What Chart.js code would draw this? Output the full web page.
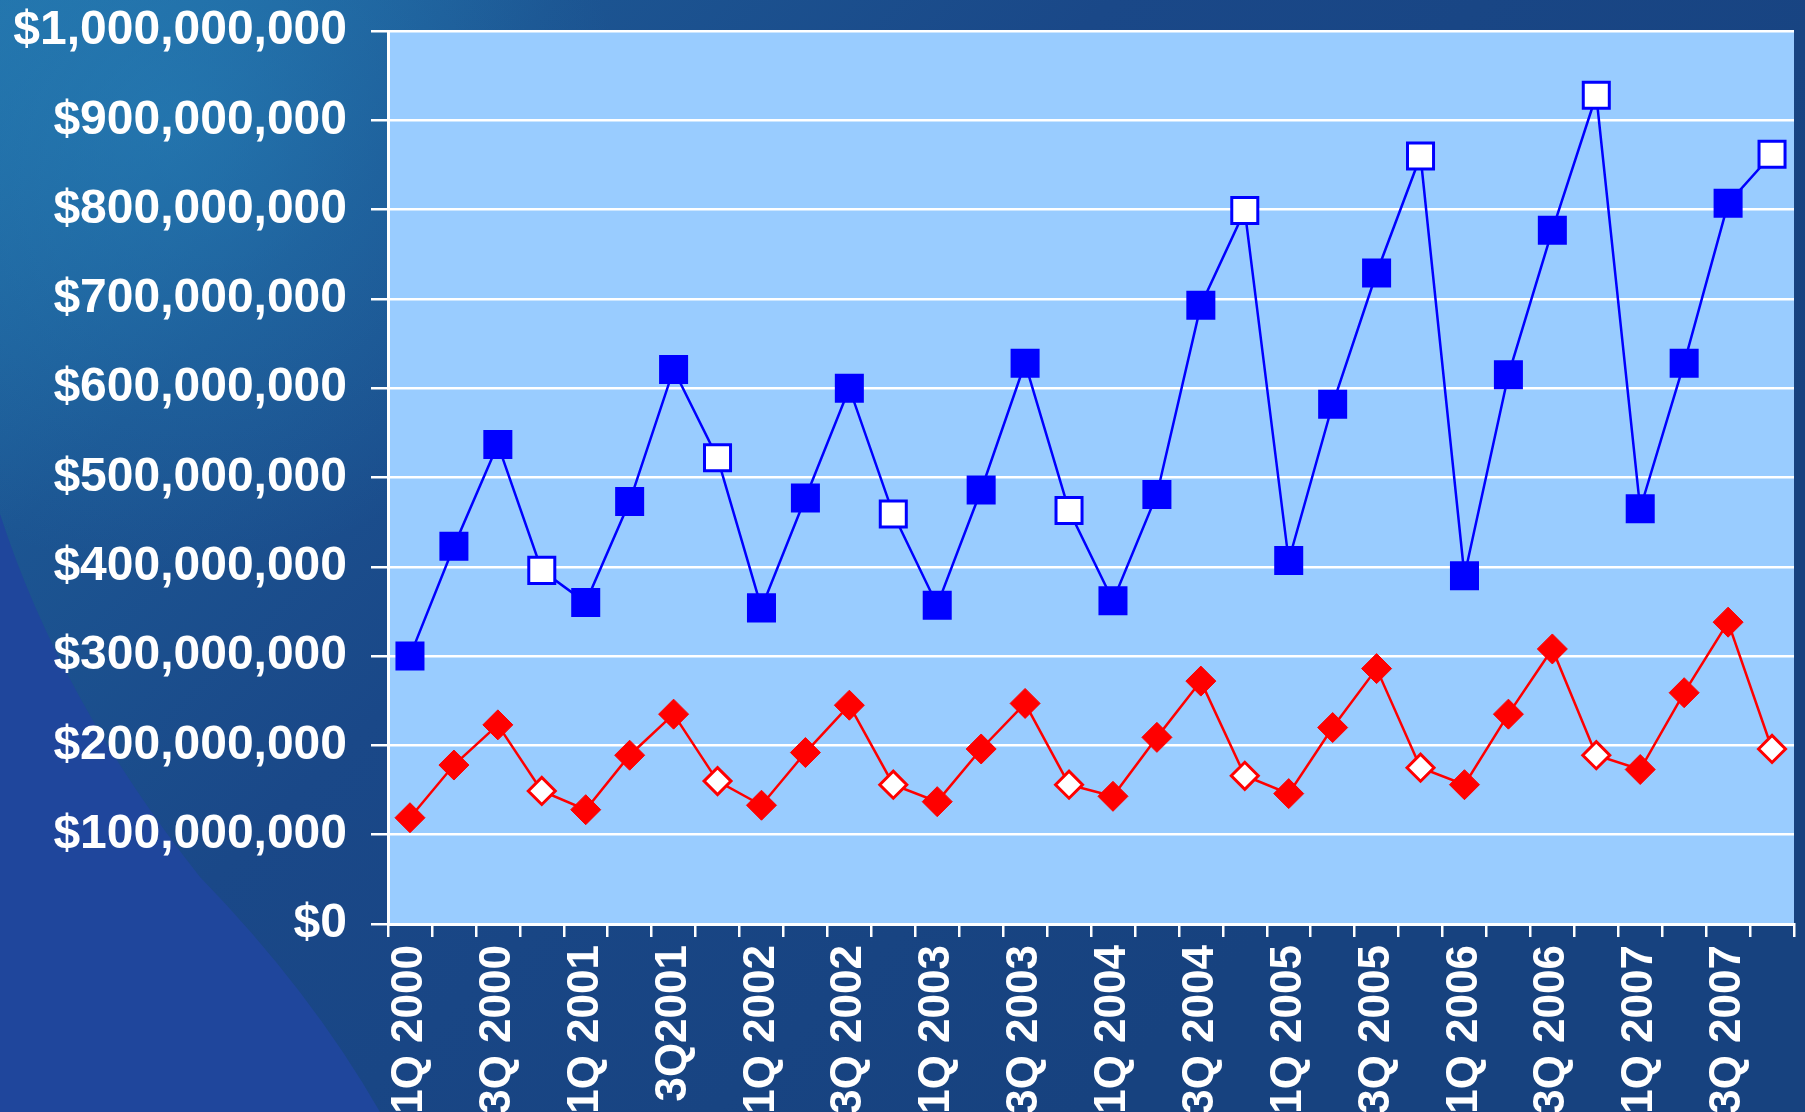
<!DOCTYPE html>
<html>
<head>
<meta charset="utf-8">
<script src="https://cdn.jsdelivr.net/npm/chart.js@4.4.1/dist/chart.umd.min.js"></script>
<style>
  html, body { margin: 0; padding: 0; overflow: hidden; background: #17427f; }
  #wrap { width: 1805px; height: 1112px; }
</style>
</head>
<body>
<div id="wrap"><canvas id="chart" width="1805" height="1112"></canvas></div>
<script>
// Quarterly values

const quarters = [
    '1Q 2000', '2Q 2000', '3Q 2000', '4Q 2000',
    '1Q 2001', '2Q 2001', '3Q2001', '4Q 2001',
    '1Q 2002', '2Q 2002', '3Q 2002', '4Q 2002',
    '1Q 2003', '2Q 2003', '3Q 2003', '4Q 2003',
    '1Q 2004', '2Q 2004', '3Q 2004', '4Q 2004',
    '1Q 2005', '2Q 2005', '3Q 2005', '4Q 2005',
    '1Q 2006', '2Q 2006', '3Q 2006', '4Q 2006',
    '1Q 2007', '2Q 2007', '3Q 2007', '4Q 2007'
];

const blueSeries = [
    300e6, 423e6, 537e6, 396e6,
    360e6, 473e6, 621e6, 522e6,
    354e6, 477e6, 600e6, 459e6,
    357e6, 486e6, 628e6, 463e6,
    362e6, 481e6, 693e6, 799e6,
    407e6, 582e6, 729e6, 860e6,
    390e6, 615e6, 777e6, 928e6,
    465e6, 628e6, 807e6, 862e6
];

const redSeries = [
    119e6, 178e6, 223e6, 149e6,
    128e6, 189e6, 235e6, 160e6,
    133e6, 192e6, 245e6, 156e6,
    137e6, 196e6, 247e6, 156e6,
    143e6, 209e6, 272e6, 166e6,
    146e6, 220e6, 286e6, 175e6,
    156e6, 235e6, 308e6, 189e6,
    173e6, 259e6, 338e6, 196e6
];

const yTicks = [0, 1e8, 2e8, 3e8, 4e8, 5e8, 6e8, 7e8, 8e8, 9e8, 1e9];

// 4th quarters are drawn hollow
const isQ4 = quarters.map(q => q.startsWith('4Q'));

const FONT = 'Liberation Sans, Arial, sans-serif';

const backdrop = {
    id: 'backdrop',
    beforeDraw(chart) {
        const { ctx, width, height, chartArea: a } = chart;
        ctx.save();
        const g = ctx.createLinearGradient(0, 0, width * 0.6, height);
        g.addColorStop(0, '#2270a8');
        g.addColorStop(0.25, '#1c5592');
        g.addColorStop(0.5, '#1a4888');
        g.addColorStop(1, '#17427f');
        ctx.fillStyle = g;
        ctx.fillRect(0, 0, width, height);

        const r = ctx.createRadialGradient(170, 120, 0, 170, 120, 450);
        r.addColorStop(0, 'rgba(40,135,190,0.5)');
        r.addColorStop(1, 'rgba(40,135,190,0)');
        ctx.fillStyle = r;
        ctx.fillRect(0, 0, width, height);

        // lighter sweep in the lower left corner
        ctx.beginPath();
        ctx.moveTo(0, 514);
        ctx.quadraticCurveTo(60, 700, 200, 877);
        ctx.quadraticCurveTo(310, 990, 380, 1112);
        ctx.lineTo(0, 1112);
        ctx.closePath();
        ctx.fillStyle = '#1f469c';
        ctx.fill();

        ctx.fillStyle = '#99ccff';
        ctx.fillRect(a.left, a.top, a.right - a.left, a.bottom - a.top);
        ctx.restore();
    }
};

new Chart(document.getElementById('chart').getContext('2d'), {
    type: 'line',
    data: {
        labels: quarters,
        datasets: [
            {
                data: blueSeries,
                borderColor: '#0000ff',
                borderWidth: 2.5,
                pointStyle: 'rect',
                pointRadius: 18.4,
                pointBorderWidth: 3,
                pointBorderColor: '#0000ff',
                pointBackgroundColor: isQ4.map(h => h ? '#ffffff' : '#0000ff'),
                tension: 0
            },
            {
                data: redSeries,
                borderColor: '#ff0000',
                borderWidth: 2.5,
                pointStyle: 'rectRot',
                pointRadius: isQ4.map(h => h ? 13.5 : 15),
                pointBorderWidth: isQ4.map(h => h ? 3 : 1),
                pointBorderColor: '#ff0000',
                pointBackgroundColor: isQ4.map(h => h ? '#ffffff' : '#ff0000'),
                tension: 0
            }
        ]
    },
    options: {
        responsive: false,
        animation: false,
        layout: { autoPadding: false, padding: { top: 31, right: 11, left: 0, bottom: 0 } },
        plugins: { legend: { display: false }, tooltip: { enabled: false } },
        scales: {
            x: {
                offset: true,
                grid: { offset: true, drawOnChartArea: false, color: '#ffffff', lineWidth: 2.5, tickLength: 13 },
                border: { color: '#ffffff', width: 3 },
                ticks: {
                    autoSkip: false,
                    maxRotation: 90,
                    minRotation: 90,
                    padding: 8,
                    color: '#ffffff',
                    font: { family: FONT, size: 44, weight: 'bold' },
                    callback: function (v, i) { return i % 2 === 0 ? this.getLabelForValue(v) : ''; }
                },
                afterFit: s => { s.height = 188; s.paddingLeft = 0; s.paddingRight = 0; }
            },
            y: {
                min: 0,
                max: 1e9,
                afterBuildTicks: s => { s.ticks = yTicks.map(v => ({ value: v })); },
                grid: { color: '#ffffff', lineWidth: 2.5, tickLength: 17 },
                border: { color: '#ffffff', width: 3 },
                ticks: {
                    padding: 24,
                    color: '#ffffff',
                    font: { family: FONT, size: 48, weight: 'bold' },
                    callback: v => '$' + v.toLocaleString('en-US')
                },
                afterFit: s => { s.width = 388; s.paddingTop = 0; s.paddingBottom = 0; }
            }
        }
    },
    plugins: [backdrop]
});
</script>
</body>
</html>
